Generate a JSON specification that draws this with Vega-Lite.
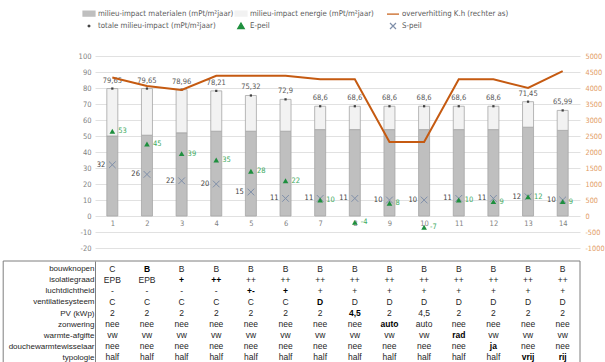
{
  "$schema": "https://vega.github.io/schema/vega-lite/v6.json",
  "padding": {"left": 2, "top": 6, "right": 0, "bottom": 1},
  "config": {
    "font": "Liberation Sans Narrow, DejaVu Sans Condensed, Liberation Sans",
    "view": {"stroke": null},
    "locale": {"number": {"decimal": ",", "thousands": ".", "grouping": [3], "currency": ["€", ""], "minus": "-"}}
  },
  "datasets": {
    "main": [
      {"c": 1, "mat": 50, "tot": 79.65, "K": 4330, "E": 53, "S": 32},
      {"c": 2, "mat": 50.5, "tot": 79.65, "K": 4060, "E": 45, "S": 26},
      {"c": 3, "mat": 52, "tot": 78.96, "K": 3940, "E": 39, "S": 22},
      {"c": 4, "mat": 53, "tot": 78.21, "K": 4380, "E": 35, "S": 20},
      {"c": 5, "mat": 53, "tot": 75.32, "K": 4380, "E": 28, "S": 15},
      {"c": 6, "mat": 53, "tot": 72.9, "K": 4380, "E": 22, "S": 11},
      {"c": 7, "mat": 54, "tot": 68.6, "K": 4270, "E": 10, "S": 11},
      {"c": 8, "mat": 54, "tot": 68.6, "K": 4270, "E": -4, "S": 11},
      {"c": 9, "mat": 54, "tot": 68.6, "K": 2310, "E": 8, "S": 10},
      {"c": 10, "mat": 54, "tot": 68.6, "K": 2310, "E": -7, "S": 10},
      {"c": 11, "mat": 54, "tot": 68.6, "K": 4270, "E": 10, "S": 11},
      {"c": 12, "mat": 54, "tot": 68.6, "K": 4270, "E": 9, "S": 11},
      {"c": 13, "mat": 55.5, "tot": 71.45, "K": 4000, "E": 12, "S": 12},
      {"c": 14, "mat": 53.5, "tot": 65.99, "K": 4530, "E": 9, "S": 10}
    ],
    "tab": [
      {"c": 1, "bouwknopen": "C", "isolatiegraad": "EPB", "luchtdichtheid": "-", "ventilatiesysteem": "C", "PV (kWp)": "2", "zonwering": "nee", "warmte-afgifte": "vw", "douchewarmtewisselaar": "nee", "typologie": "half", "chg": []},
      {"c": 2, "bouwknopen": "B", "isolatiegraad": "EPB", "luchtdichtheid": "-", "ventilatiesysteem": "C", "PV (kWp)": "2", "zonwering": "nee", "warmte-afgifte": "vw", "douchewarmtewisselaar": "nee", "typologie": "half", "chg": ["bouwknopen"]},
      {"c": 3, "bouwknopen": "B", "isolatiegraad": "+", "luchtdichtheid": "-", "ventilatiesysteem": "C", "PV (kWp)": "2", "zonwering": "nee", "warmte-afgifte": "vw", "douchewarmtewisselaar": "nee", "typologie": "half", "chg": ["isolatiegraad"]},
      {"c": 4, "bouwknopen": "B", "isolatiegraad": "++", "luchtdichtheid": "-", "ventilatiesysteem": "C", "PV (kWp)": "2", "zonwering": "nee", "warmte-afgifte": "vw", "douchewarmtewisselaar": "nee", "typologie": "half", "chg": ["isolatiegraad"]},
      {"c": 5, "bouwknopen": "B", "isolatiegraad": "++", "luchtdichtheid": "+-", "ventilatiesysteem": "C", "PV (kWp)": "2", "zonwering": "nee", "warmte-afgifte": "vw", "douchewarmtewisselaar": "nee", "typologie": "half", "chg": ["luchtdichtheid"]},
      {"c": 6, "bouwknopen": "B", "isolatiegraad": "++", "luchtdichtheid": "+", "ventilatiesysteem": "C", "PV (kWp)": "2", "zonwering": "nee", "warmte-afgifte": "vw", "douchewarmtewisselaar": "nee", "typologie": "half", "chg": ["luchtdichtheid"]},
      {"c": 7, "bouwknopen": "B", "isolatiegraad": "++", "luchtdichtheid": "+", "ventilatiesysteem": "D", "PV (kWp)": "2", "zonwering": "nee", "warmte-afgifte": "vw", "douchewarmtewisselaar": "nee", "typologie": "half", "chg": ["ventilatiesysteem"]},
      {"c": 8, "bouwknopen": "B", "isolatiegraad": "++", "luchtdichtheid": "+", "ventilatiesysteem": "D", "PV (kWp)": "4,5", "zonwering": "nee", "warmte-afgifte": "vw", "douchewarmtewisselaar": "nee", "typologie": "half", "chg": ["PV (kWp)"]},
      {"c": 9, "bouwknopen": "B", "isolatiegraad": "++", "luchtdichtheid": "+", "ventilatiesysteem": "D", "PV (kWp)": "2", "zonwering": "auto", "warmte-afgifte": "vw", "douchewarmtewisselaar": "nee", "typologie": "half", "chg": ["zonwering"]},
      {"c": 10, "bouwknopen": "B", "isolatiegraad": "++", "luchtdichtheid": "+", "ventilatiesysteem": "D", "PV (kWp)": "4,5", "zonwering": "auto", "warmte-afgifte": "vw", "douchewarmtewisselaar": "nee", "typologie": "half", "chg": []},
      {"c": 11, "bouwknopen": "B", "isolatiegraad": "++", "luchtdichtheid": "+", "ventilatiesysteem": "D", "PV (kWp)": "2", "zonwering": "nee", "warmte-afgifte": "rad", "douchewarmtewisselaar": "nee", "typologie": "half", "chg": ["warmte-afgifte"]},
      {"c": 12, "bouwknopen": "B", "isolatiegraad": "++", "luchtdichtheid": "+", "ventilatiesysteem": "D", "PV (kWp)": "2", "zonwering": "nee", "warmte-afgifte": "vw", "douchewarmtewisselaar": "ja", "typologie": "half", "chg": ["douchewarmtewisselaar"]},
      {"c": 13, "bouwknopen": "B", "isolatiegraad": "++", "luchtdichtheid": "+", "ventilatiesysteem": "D", "PV (kWp)": "2", "zonwering": "nee", "warmte-afgifte": "vw", "douchewarmtewisselaar": "nee", "typologie": "vrij", "chg": ["typologie"]},
      {"c": 14, "bouwknopen": "B", "isolatiegraad": "++", "luchtdichtheid": "+", "ventilatiesysteem": "D", "PV (kWp)": "2", "zonwering": "nee", "warmte-afgifte": "vw", "douchewarmtewisselaar": "nee", "typologie": "rij", "chg": ["typologie"]}
    ]
  },
  "spacing": 8,
  "vconcat": [
    {
      "width": 485,
      "height": 192,
      "data": {"name": "main"},
      "encoding": {
        "x": {
          "field": "c", "type": "quantitative",
          "scale": {"domain": [0.5, 14.5], "nice": false, "zero": false, "padding": 0},
          "axis": {"title": null, "values": [1,2,3,4,5,6,7,8,9,10,11,12,13,14], "format": "d", "offset": -32, "grid": false, "domain": false, "ticks": false, "labelColor": "#7F7F7F", "labelFontSize": 7.5, "labelPadding": 3, "labelOverlap": false}
        }
      },
      "layer": [
        {
          "layer": [
            {
              "mark": {"type": "bar", "size": 11, "stroke": "#A6A6A6", "strokeWidth": 0.8},
              "encoding": {
                "y": {
                  "field": "mat", "type": "quantitative",
                  "scale": {"domain": [-20, 100], "nice": false},
                  "axis": {"title": null, "orient": "left", "values": [-20,-10,0,10,20,30,40,50,60,70,80,90,100], "format": "d", "grid": true, "gridColor": "#D9D9D9", "gridWidth": 0.8, "domain": false, "ticks": false, "labelColor": "#7F7F7F", "labelFontSize": 7.5, "labelPadding": 4, "labelOverlap": false}
                },
                "color": {
                  "datum": "milieu-impact materialen (mPt/m²jaar)",
                  "scale": {
                    "domain": ["milieu-impact materialen (mPt/m²jaar)", "totale milieu-impact (mPt/m²jaar)", "milieu-impact energie (mPt/m²jaar)", "E-peil", "oververhitting K.h (rechter as)", "S-peil"],
                    "range": ["#BFBFBF", "#404040", "#F2F2F2", "#1E8F3E", "#C55A11", "#7F8FA9"]
                  },
                  "legend": {
                    "title": null, "orient": "none", "legendX": -13, "legendY": -50,
                    "columns": 3, "gridAlign": "all", "columnPadding": -11, "rowPadding": -5,
                    "symbolSize": 144, "symbolOpacity": 1, "symbolStrokeWidth": 1.2,
                    "symbolType": {"expr": "(indexof(datum.value,'materialen')>=0 || indexof(datum.value,'energie')>=0) ? 'M-1,-0.42H1V0.42H-1Z' : indexof(datum.value,'oververhitting')>=0 ? 'M-1,0H1' : indexof(datum.value,'totale')>=0 ? 'M-0.15,0A0.15,0.15,0,1,1,0.15,0A0.15,0.15,0,1,1,-0.15,0Z' : datum.value==='E-peil' ? 'M0,-0.5L0.55,0.45L-0.55,0.45Z' : 'M-0.5,-0.5L0.5,0.5M-0.5,0.5L0.5,-0.5'"},
                    "labelFontSize": 7.8, "labelColor": "#595959", "labelOffset": 2, "labelLimit": 220
                  }
                }
              }
            },
            {
              "mark": {"type": "bar", "size": 11, "stroke": "#A6A6A6", "strokeWidth": 0.8},
              "encoding": {
                "y": {"field": "mat", "type": "quantitative", "axis": {"title": null, "orient": "left", "values": [-20,-10,0,10,20,30,40,50,60,70,80,90,100], "format": "d", "grid": true, "gridColor": "#D9D9D9", "gridWidth": 0.8, "domain": false, "ticks": false, "labelColor": "#7F7F7F", "labelFontSize": 7.5, "labelPadding": 4, "labelOverlap": false}},
                "y2": {"field": "tot"},
                "color": {"datum": "milieu-impact energie (mPt/m²jaar)"}
              }
            },
            {
              "mark": {"type": "point", "shape": "square", "size": 5, "filled": true, "opacity": 1},
              "encoding": {
                "y": {"field": "tot", "type": "quantitative", "axis": {"title": null, "orient": "left", "values": [-20,-10,0,10,20,30,40,50,60,70,80,90,100], "format": "d", "grid": true, "gridColor": "#D9D9D9", "gridWidth": 0.8, "domain": false, "ticks": false, "labelColor": "#7F7F7F", "labelFontSize": 7.5, "labelPadding": 4, "labelOverlap": false}},
                "color": {"datum": "totale milieu-impact (mPt/m²jaar)"}
              }
            },
            {
              "mark": {"type": "text", "dy": -8, "fontSize": 7.5, "color": "#595959"},
              "encoding": {
                "y": {"field": "tot", "type": "quantitative", "axis": {"title": null, "orient": "left", "values": [-20,-10,0,10,20,30,40,50,60,70,80,90,100], "format": "d", "grid": true, "gridColor": "#D9D9D9", "gridWidth": 0.8, "domain": false, "ticks": false, "labelColor": "#7F7F7F", "labelFontSize": 7.5, "labelPadding": 4, "labelOverlap": false}},
                "text": {"field": "tot", "type": "quantitative", "format": ".2~f"}
              }
            },
            {
              "mark": {"type": "point", "shape": "M-1,-1L1,1M-1,1L1,-1", "size": 45, "filled": false, "strokeWidth": 1, "opacity": 1},
              "encoding": {
                "y": {"field": "S", "type": "quantitative", "axis": {"title": null, "orient": "left", "values": [-20,-10,0,10,20,30,40,50,60,70,80,90,100], "format": "d", "grid": true, "gridColor": "#D9D9D9", "gridWidth": 0.8, "domain": false, "ticks": false, "labelColor": "#7F7F7F", "labelFontSize": 7.5, "labelPadding": 4, "labelOverlap": false}},
                "color": {"datum": "S-peil"}
              }
            },
            {
              "mark": {"type": "text", "align": "right", "dx": -7, "fontSize": 7.5, "color": "#404040"},
              "encoding": {
                "y": {"field": "S", "type": "quantitative", "axis": {"title": null, "orient": "left", "values": [-20,-10,0,10,20,30,40,50,60,70,80,90,100], "format": "d", "grid": true, "gridColor": "#D9D9D9", "gridWidth": 0.8, "domain": false, "ticks": false, "labelColor": "#7F7F7F", "labelFontSize": 7.5, "labelPadding": 4, "labelOverlap": false}},
                "text": {"field": "S", "type": "quantitative", "format": "d"}
              }
            },
            {
              "mark": {"type": "point", "shape": "triangle-up", "size": 32, "filled": true, "opacity": 1},
              "encoding": {
                "y": {"field": "E", "type": "quantitative", "axis": {"title": null, "orient": "left", "values": [-20,-10,0,10,20,30,40,50,60,70,80,90,100], "format": "d", "grid": true, "gridColor": "#D9D9D9", "gridWidth": 0.8, "domain": false, "ticks": false, "labelColor": "#7F7F7F", "labelFontSize": 7.5, "labelPadding": 4, "labelOverlap": false}},
                "color": {"datum": "E-peil"}
              }
            },
            {
              "mark": {"type": "text", "align": "left", "dx": 6, "fontSize": 7.5, "color": "#3DAA5E"},
              "encoding": {
                "y": {"field": "E", "type": "quantitative", "axis": {"title": null, "orient": "left", "values": [-20,-10,0,10,20,30,40,50,60,70,80,90,100], "format": "d", "grid": true, "gridColor": "#D9D9D9", "gridWidth": 0.8, "domain": false, "ticks": false, "labelColor": "#7F7F7F", "labelFontSize": 7.5, "labelPadding": 4, "labelOverlap": false}},
                "text": {"field": "E", "type": "quantitative", "format": "d"}
              }
            }
          ]
        },
        {
          "mark": {"type": "line", "strokeWidth": 2},
          "encoding": {
            "y": {
              "field": "K", "type": "quantitative",
              "scale": {"domain": [-1000, 5000], "nice": false, "zero": false},
              "axis": {"title": null, "orient": "right", "values": [-1000,-500,0,500,1000,1500,2000,2500,3000,3500,4000,4500,5000], "format": "d", "grid": false, "domain": false, "ticks": false, "labelColor": "#E29A63", "labelFontSize": 7.3, "labelPadding": 5, "labelOverlap": false}
            },
            "color": {"datum": "oververhitting K.h (rechter as)"}
          }
        }
      ],
      "resolve": {"scale": {"y": "independent"}}
    },
    {
      "width": 485,
      "height": 104,
      "data": {"name": "tab"},
      "encoding": {
        "x": {"field": "c", "type": "quantitative", "scale": {"domain": [0.5, 14.5], "nice": false, "zero": false, "padding": 0}, "axis": null}
      },
      "layer": [
        {
          "transform": [{"filter": "datum.c === 1"}],
          "mark": {"type": "rect", "fill": "transparent", "stroke": "#7F7F7F", "strokeWidth": 1},
          "encoding": {
            "x": {"datum": -2.15, "type": "quantitative"},
            "x2": {"datum": 14.5}
          }
        },
        {
          "transform": [{"fold": ["bouwknopen", "isolatiegraad", "luchtdichtheid", "ventilatiesysteem", "PV (kWp)", "zonwering", "warmte-afgifte", "douchewarmtewisselaar", "typologie"], "as": ["row", "v"]}],
          "encoding": {
            "y": {
              "field": "row", "type": "nominal",
              "sort": ["bouwknopen", "isolatiegraad", "luchtdichtheid", "ventilatiesysteem", "PV (kWp)", "zonwering", "warmte-afgifte", "douchewarmtewisselaar", "typologie"],
              "scale": {"padding": 0.68},
              "axis": {"title": null, "orient": "left", "domain": true, "domainColor": "#7F7F7F", "domainWidth": 1, "ticks": false, "grid": false, "labelFont": "Liberation Sans", "labelColor": "#262626", "labelFontSize": 8, "labelPadding": 1, "labelLimit": 200}
            },
            "text": {"field": "v", "type": "nominal"}
          },
          "layer": [
            {
              "transform": [{"filter": "indexof(datum.chg, datum.row) < 0"}],
              "mark": {"type": "text", "font": "Liberation Sans", "fontSize": 8.5, "color": "#262626"}
            },
            {
              "transform": [{"filter": "indexof(datum.chg, datum.row) >= 0"}],
              "mark": {"type": "text", "font": "Liberation Sans", "fontSize": 8.5, "fontWeight": "bold", "color": "#000000"}
            }
          ]
        }
      ]
    }
  ]
}
